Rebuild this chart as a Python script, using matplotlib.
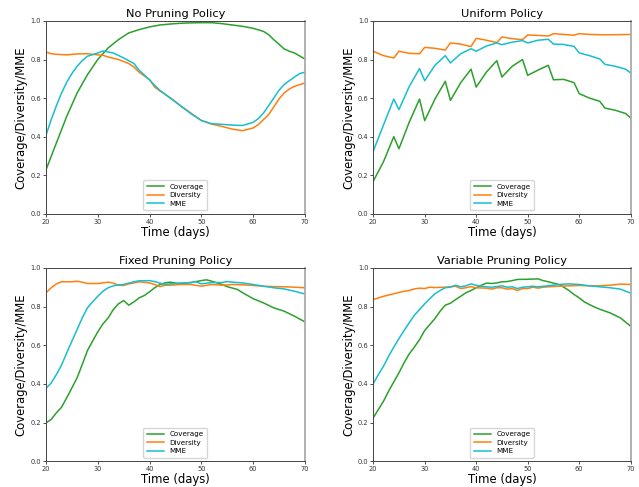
import matplotlib
matplotlib.use("Agg")
import matplotlib.pyplot as plt

# ---------------- No Pruning Policy ----------------
np_cov_days = [20, 22, 24, 26, 28, 30, 32, 34, 36, 38, 40, 42, 44, 46, 48, 50, 52, 54, 56, 58, 60, 62, 63, 64, 65, 66, 67, 68, 70]
np_cov = [0.228, 0.367, 0.505, 0.626, 0.721, 0.80, 0.86, 0.903, 0.938, 0.955, 0.969, 0.979, 0.984, 0.988, 0.99, 0.991,
          0.991, 0.986, 0.979, 0.972, 0.962, 0.946, 0.929, 0.903, 0.88, 0.855, 0.843, 0.834, 0.803]
np_div_days = [20, 21, 22, 24, 26, 28, 30, 31, 32, 34, 36, 37, 38, 40, 41, 42, 44, 46, 48, 50, 52, 54, 56, 58, 60, 61, 62,
               63, 64, 65, 66, 67, 68, 70]
np_div = [0.839, 0.83, 0.827, 0.824, 0.829, 0.83, 0.824, 0.822, 0.813, 0.80, 0.779, 0.761, 0.734, 0.695, 0.657, 0.637,
          0.602, 0.56, 0.522, 0.484, 0.465, 0.453, 0.439, 0.431, 0.445, 0.462, 0.488, 0.514, 0.554, 0.595, 0.626, 0.647,
          0.661, 0.678]
np_mme_days = [20, 21, 22, 23, 24, 25, 26, 27, 28, 29, 30, 31, 32, 33, 35, 37, 38, 40, 41, 42, 44, 46, 48, 50, 52, 54, 56,
               58, 60, 61, 62, 63, 64, 65, 66, 67, 68, 69, 70]
np_mme = [0.407, 0.488, 0.56, 0.626, 0.682, 0.727, 0.765, 0.794, 0.817, 0.825, 0.834, 0.844, 0.839, 0.834, 0.808, 0.779,
          0.744, 0.695, 0.666, 0.64, 0.60, 0.56, 0.519, 0.484, 0.467, 0.464, 0.46, 0.458, 0.474, 0.493, 0.522, 0.56, 0.60,
          0.64, 0.67, 0.69, 0.709, 0.727, 0.734]

# ---------------- Uniform Policy ----------------
un_cov_days = [20, 22, 24, 25, 27, 29, 30, 32, 34, 35, 37, 39, 40, 42, 44, 45, 47, 49, 50, 52, 54, 55, 57, 59, 60, 62, 64,
               65, 67, 69, 70]
un_cov = [0.168, 0.27, 0.40, 0.337, 0.475, 0.595, 0.483, 0.595, 0.687, 0.588, 0.68, 0.75, 0.657, 0.735, 0.794, 0.709,
          0.765, 0.80, 0.718, 0.745, 0.77, 0.695, 0.697, 0.68, 0.623, 0.60, 0.583, 0.548, 0.537, 0.52, 0.497]
un_div_days = [20, 22, 24, 25, 27, 29, 30, 32, 34, 35, 37, 39, 40, 42, 44, 45, 47, 49, 50, 52, 54, 55, 57, 59, 60, 62, 65,
               70]
un_div = [0.843, 0.82, 0.808, 0.843, 0.832, 0.83, 0.863, 0.858, 0.849, 0.886, 0.88, 0.867, 0.91, 0.90, 0.888, 0.917,
          0.908, 0.903, 0.927, 0.925, 0.922, 0.934, 0.93, 0.926, 0.934, 0.93, 0.928, 0.93]
un_mme_days = [20, 22, 24, 25, 27, 29, 30, 32, 34, 35, 37, 39, 40, 42, 44, 45, 47, 49, 50, 52, 54, 55, 57, 59, 60, 62, 64,
               65, 67, 69, 70]
un_mme = [0.324, 0.46, 0.595, 0.54, 0.66, 0.753, 0.69, 0.77, 0.82, 0.782, 0.83, 0.856, 0.843, 0.87, 0.886, 0.877, 0.89,
          0.898, 0.886, 0.90, 0.905, 0.88, 0.878, 0.868, 0.834, 0.82, 0.803, 0.775, 0.765, 0.75, 0.73]

# ---------------- Fixed Pruning Policy ----------------
fx_cov_days = [20, 21, 22, 23, 24, 25, 26, 27, 28, 29, 30, 31, 32, 33, 34, 35, 36, 37, 38, 39, 40, 41, 42, 43, 44, 45, 46,
               48, 50, 51, 52, 54, 55, 57, 58, 60, 62, 64, 66, 68, 70]
fx_cov = [0.198, 0.216, 0.25, 0.279, 0.328, 0.379, 0.431, 0.50, 0.572, 0.621, 0.669, 0.71, 0.741, 0.784, 0.814, 0.831,
          0.807, 0.824, 0.845, 0.857, 0.876, 0.897, 0.914, 0.922, 0.926, 0.921, 0.919, 0.924, 0.934, 0.938, 0.931, 0.914,
          0.903, 0.888, 0.871, 0.841, 0.819, 0.793, 0.776, 0.75, 0.721]
fx_div_days = [20, 21, 22, 23, 25, 26, 27, 28, 30, 32, 33, 34, 35, 36, 37, 38, 40, 41, 42, 43, 44, 46, 48, 50, 52, 54, 56,
               58, 60, 62, 64, 66, 68, 70]
fx_div = [0.871, 0.897, 0.917, 0.928, 0.928, 0.931, 0.926, 0.919, 0.919, 0.926, 0.921, 0.91, 0.909, 0.917, 0.922, 0.928,
          0.922, 0.914, 0.903, 0.91, 0.91, 0.914, 0.914, 0.905, 0.914, 0.91, 0.914, 0.912, 0.909, 0.905, 0.903, 0.902,
          0.90, 0.897]
fx_mme_days = [20, 21, 22, 23, 24, 25, 26, 27, 28, 29, 30, 31, 32, 33, 34, 35, 36, 37, 38, 40, 41, 42, 43, 44, 45, 46, 48,
               49, 50, 52, 54, 55, 56, 58, 60, 62, 64, 66, 68, 70]
fx_mme = [0.376, 0.405, 0.448, 0.497, 0.56, 0.621, 0.681, 0.741, 0.793, 0.824, 0.853, 0.879, 0.897, 0.907, 0.912, 0.914,
          0.921, 0.928, 0.933, 0.934, 0.929, 0.921, 0.914, 0.917, 0.919, 0.921, 0.924, 0.928, 0.917, 0.924, 0.924, 0.929,
          0.926, 0.922, 0.914, 0.905, 0.897, 0.891, 0.879, 0.865]

# ---------------- Variable Pruning Policy ----------------
vr_cov_days = [20, 21, 22, 23, 24, 25, 26, 27, 28, 29, 30, 31, 32, 33, 34, 35, 36, 37, 38, 39, 40, 41, 42, 43, 44, 45, 46,
               47, 48, 50, 52, 53, 54, 55, 56, 57, 58, 59, 60, 61, 62, 63, 64, 66, 68, 70]
vr_cov = [0.224, 0.267, 0.31, 0.362, 0.41, 0.457, 0.509, 0.555, 0.59, 0.629, 0.676, 0.707, 0.738, 0.776, 0.807, 0.817,
          0.836, 0.853, 0.871, 0.883, 0.897, 0.91, 0.921, 0.919, 0.922, 0.928, 0.929, 0.934, 0.94, 0.941, 0.943, 0.934,
          0.928, 0.921, 0.914, 0.90, 0.883, 0.862, 0.845, 0.824, 0.81, 0.797, 0.786, 0.767, 0.741, 0.698]
vr_div_days = [20, 22, 24, 26, 27, 28, 29, 30, 31, 32, 34, 36, 37, 38, 39, 40, 42, 43, 44, 45, 46, 47, 48, 49, 50, 51, 52,
               53, 54, 56, 58, 60, 62, 64, 66, 68, 70]
vr_div = [0.836, 0.853, 0.866, 0.879, 0.883, 0.891, 0.895, 0.893, 0.90, 0.898, 0.90, 0.905, 0.893, 0.897, 0.903, 0.897,
          0.895, 0.89, 0.897, 0.897, 0.89, 0.893, 0.883, 0.893, 0.893, 0.90, 0.895, 0.90, 0.902, 0.905, 0.907, 0.909,
          0.907, 0.907, 0.91, 0.916, 0.914]
vr_mme_days = [20, 21, 22, 23, 24, 25, 26, 27, 28, 29, 30, 31, 32, 33, 34, 35, 36, 37, 38, 39, 40, 41, 42, 43, 44, 45, 46,
               47, 48, 49, 50, 51, 52, 54, 56, 58, 60, 62, 64, 66, 68, 70]
vr_mme = [0.40, 0.448, 0.491, 0.543, 0.59, 0.634, 0.676, 0.716, 0.755, 0.784, 0.814, 0.841, 0.866, 0.883, 0.897, 0.90,
          0.91, 0.902, 0.907, 0.917, 0.91, 0.905, 0.902, 0.90, 0.903, 0.907, 0.90, 0.902, 0.893, 0.90, 0.902, 0.905,
          0.902, 0.907, 0.914, 0.917, 0.914, 0.907, 0.902, 0.897, 0.89, 0.869]

titles = ["No Pruning Policy", "Uniform Policy", "Fixed Pruning Policy", "Variable Pruning Policy"]
series_names = ["Coverage", "Diversity", "MME"]
colors = ["#2ca02c", "#ff7f0e", "#17becf"]

panels = [
    [(np_cov_days, np_cov), (np_div_days, np_div), (np_mme_days, np_mme)],
    [(un_cov_days, un_cov), (un_div_days, un_div), (un_mme_days, un_mme)],
    [(fx_cov_days, fx_cov), (fx_div_days, fx_div), (fx_mme_days, fx_mme)],
    [(vr_cov_days, vr_cov), (vr_div_days, vr_div), (vr_mme_days, vr_mme)],
]

fig = plt.figure(figsize=(6.39, 4.87), dpi=100)
positions = [
    [0.072, 0.561, 0.405, 0.396],
    [0.584, 0.561, 0.403, 0.396],
    [0.072, 0.053, 0.405, 0.397],
    [0.584, 0.053, 0.403, 0.397],
]

for pos, title, data in zip(positions, titles, panels):
    ax = fig.add_axes(pos)
    for (xs, ys), name, c in zip(data, series_names, colors):
        ax.plot(xs, ys, color=c, lw=1.1, label=name)
    ax.set_xlim(20, 70)
    ax.set_ylim(0, 1.0)
    ax.set_xticks([20, 30, 40, 50, 60, 70])
    ax.set_yticks([0.0, 0.2, 0.4, 0.6, 0.8, 1.0])
    ax.tick_params(labelsize=4.8, length=2, width=0.6, pad=1.5, colors="#333333")
    ax.set_title(title, fontsize=8.2, pad=3)
    ax.set_xlabel("Time (days)", fontsize=8.4, labelpad=1)
    ax.set_ylabel("Coverage/Diversity/MME", fontsize=8.4, labelpad=2)
    for s in ["left", "bottom", "top"]:
        ax.spines[s].set_color("#444444")
        ax.spines[s].set_linewidth(0.7)
    ax.spines["right"].set_color("#aaaaaa")
    ax.spines["right"].set_linewidth(1.3)
    ax.legend(loc="lower center", fontsize=5.1, handlelength=2.4, borderpad=0.5, labelspacing=0.35)

fig.savefig("out.png", dpi=100)
